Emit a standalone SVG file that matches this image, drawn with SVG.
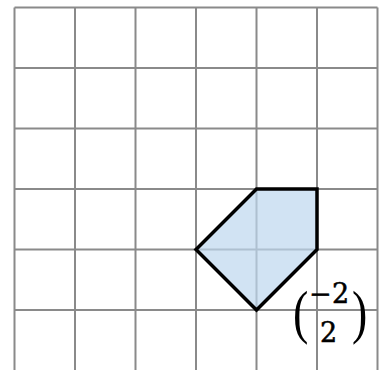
<svg xmlns="http://www.w3.org/2000/svg" width="385" height="370" viewBox="0 0 385 370">
<style>
.g{stroke:#8a8a8a;stroke-width:2;fill:none}
.t{font-family:"DejaVu Serif","Liberation Serif",serif;fill:#000}
.d{font-size:27px;stroke:#000;stroke-width:0.5}
.p{font-family:"Liberation Serif",serif;font-size:46px}
</style>
<rect width="385" height="370" fill="#fff"/>
<g id="grid" class="g">
<path d="M14.5 7.5V370M75 7.5V370M135.5 7.5V370M196 7.5V370M256.5 7.5V370M317 7.5V370M377.5 7.5V370"/>
<path d="M14.5 7.5H377.5M14.5 68H377.5M14.5 128.5H377.5M14.5 189H377.5M14.5 249.5H377.5M14.5 310H377.5"/>
</g>
<g id="shape">
<polygon points="256.5,189 317,189 317,249.5 256.5,310 196,249.5" fill="#bdd7ee" fill-opacity="0.7" stroke="#000" stroke-width="3.5" stroke-linejoin="miter"/>
</g>
<g id="vector" class="t">
<text class="p" x="0" y="0" transform="translate(293 332) scale(1 1.3)">(</text>
<text class="p" x="0" y="0" transform="translate(352 332) scale(1 1.3)">)</text>
<text class="d" y="303"><tspan x="309">−</tspan><tspan x="332">2</tspan></text>
<text class="d" x="320" y="342">2</text>
</g>
</svg>
